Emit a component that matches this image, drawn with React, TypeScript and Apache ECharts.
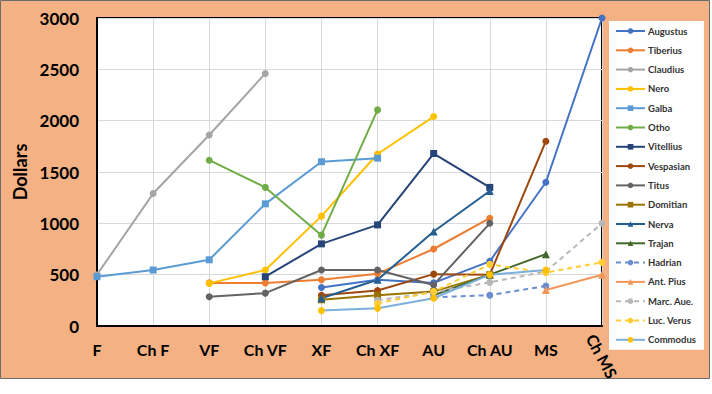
import React, { useEffect, useRef } from "react";
import * as echarts from "echarts";

const categories = ["F", "Ch F", "VF", "Ch VF", "XF", "Ch XF", "AU", "Ch AU", "MS", "Ch MS"];
const yTicks = { min: 0, max: 3000, interval: 500 };

const augustus = [null, null, null, null, 375, 450, 420, 630, 1400, 3000];
const tiberius = [null, null, 420, 420, 450, 510, 750, 1050, null, null];
const claudius = [500, 1290, 1860, 2460, null, null, null, null, null, null];
const nero = [null, null, 415, 545, 1070, 1675, 2040, null, null, null];
const galba = [480, 545, 645, 1190, 1600, 1635, null, null, null, null];
const otho = [null, null, 1615, 1350, 885, 2105, null, null, null, null];
const vitellius = [null, null, null, 480, 800, 985, 1680, 1350, null, null];
const vespasian = [null, null, null, null, 300, 345, 505, 500, 1800, null];
const titus = [null, null, 285, 320, 545, 545, 400, 1000, null, null];
const domitian = [null, null, null, null, 255, 300, 335, 500, null, null];
const nerva = [null, null, null, null, 270, 450, 920, 1315, null, null];
const trajan = [null, null, null, null, null, null, 300, 500, 700, null];
const hadrian = [null, null, null, null, null, null, 280, 300, 390, null];
const antPius = [null, null, null, null, null, null, null, null, 350, 500];
const marcAue = [null, null, null, null, null, 250, 330, 425, 530, 1000];
const lucVerus = [null, null, null, null, null, 220, 335, 600, 520, 620];
const commodus = [null, null, null, null, 150, 172, 270, 500, 545, null];

const seriesDefs = [
  { name: "Augustus", data: augustus, color: "#4472C4", symbol: "circle", dashed: false },
  { name: "Tiberius", data: tiberius, color: "#ED7D31", symbol: "circle", dashed: false },
  { name: "Claudius", data: claudius, color: "#A5A5A5", symbol: "circle", dashed: false },
  { name: "Nero", data: nero, color: "#FFC000", symbol: "circle", dashed: false },
  { name: "Galba", data: galba, color: "#5B9BD5", symbol: "rect", dashed: false },
  { name: "Otho", data: otho, color: "#70AD47", symbol: "circle", dashed: false },
  { name: "Vitellius", data: vitellius, color: "#264478", symbol: "rect", dashed: false },
  { name: "Vespasian", data: vespasian, color: "#9E480E", symbol: "circle", dashed: false },
  { name: "Titus", data: titus, color: "#636363", symbol: "circle", dashed: false },
  { name: "Domitian", data: domitian, color: "#997300", symbol: "rect", dashed: false },
  { name: "Nerva", data: nerva, color: "#255E91", symbol: "triangle", dashed: false },
  { name: "Trajan", data: trajan, color: "#43682B", symbol: "triangle", dashed: false },
  { name: "Hadrian", data: hadrian, color: "#698ED0", symbol: "circle", dashed: true },
  { name: "Ant. Pius", data: antPius, color: "#F1975A", symbol: "triangle", dashed: false },
  { name: "Marc. Aue.", data: marcAue, color: "#B7B7B7", symbol: "circle", dashed: true },
  { name: "Luc. Verus", data: lucVerus, color: "#FFCD33", symbol: "circle", dashed: true },
  { name: "Commodus", data: commodus, color: "#7CAFDD", symbol: "circle", dashed: false, marker: "#FFC000" },
];

const FONT = "Lato, 'Liberation Sans', Arial, sans-serif";

export default function App() {
  const ref = useRef<HTMLDivElement>(null);
  useEffect(() => {
    if (!ref.current) return;
    const chart = echarts.init(ref.current, undefined, { renderer: "svg" });
    const lastIdx = categories.length - 1;
    chart.setOption({
      animation: false,
      backgroundColor: "#ffffff",
      graphic: [
        {
          type: "rect",
          z: -10,
          silent: true,
          shape: { x: 0.5, y: 0.5, width: 709, height: 378 },
          style: { fill: "#F4B183", stroke: "#6b6b6b", lineWidth: 1 },
        },
      ],
      grid: {
        left: 97,
        right: 110,
        top: 18,
        bottom: 68,
        show: true,
        backgroundColor: "#ffffff",
        borderColor: "#000000",
        borderWidth: 2,
      },
      legend: {
        orient: "vertical",
        left: 609,
        top: 21,
        height: 340,
        backgroundColor: "#ffffff",
        padding: [4, 8, 4, 6],
        itemWidth: 29,
        itemHeight: 7,
        itemGap: 7.3,
        textStyle: {
          fontFamily: FONT,
          fontSize: 9.5,
          lineHeight: 12,
          fontWeight: "bold",
          color: "#333333",
          padding: [0, 0, 0, -2],
        },
        data: seriesDefs.map((s) => s.name),
      },
      xAxis: [
        {
          type: "category",
          data: categories,
          boundaryGap: false,
          axisLine: { show: true, lineStyle: { color: "#000", width: 2 } },
          axisTick: { show: false },
          splitLine: { show: true, lineStyle: { color: "#D9D9D9", width: 1 } },
          axisLabel: {
            interval: 0,
            margin: 15,
            fontFamily: FONT,
            fontSize: 16,
            fontWeight: "bold",
            color: "#000",
            formatter: (v: string, i: number) => (i === lastIdx ? "" : v),
          },
        },
        {
          type: "category",
          data: categories,
          boundaryGap: false,
          position: "bottom",
          axisLine: { show: false },
          axisTick: { show: false },
          splitLine: { show: false },
          axisLabel: {
            interval: 0,
            margin: 30,
            rotate: -62,
            align: "center",
            verticalAlign: "middle",
            fontFamily: FONT,
            fontSize: 16,
            fontWeight: "bold",
            color: "#000",
            formatter: (v: string, i: number) => (i === lastIdx ? v : ""),
          },
        },
      ],
      yAxis: {
        type: "value",
        min: yTicks.min,
        max: yTicks.max,
        interval: yTicks.interval,
        name: "Dollars",
        nameLocation: "middle",
        nameGap: 56,
        nameTextStyle: { fontFamily: FONT, fontSize: 18, fontWeight: "bold", color: "#000" },
        axisLine: { show: true, lineStyle: { color: "#000", width: 2 } },
        axisTick: { show: false },
        splitLine: { show: true, lineStyle: { color: "#D9D9D9", width: 1 } },
        axisLabel: {
          margin: 18,
          fontFamily: FONT,
          fontSize: 17,
          fontWeight: "bold",
          color: "#000",
          formatter: (v: number) => String(v),
        },
      },
      series: seriesDefs.map((s) => ({
        name: s.name,
        type: "line",
        xAxisIndex: 0,
        data: s.data,
        symbol: s.symbol,
        symbolSize: s.symbol === "triangle" ? 8 : 7,
        showSymbol: true,
        clip: false,
        lineStyle: { color: s.color, width: 2, type: s.dashed ? [5, 4] : "solid" },
        itemStyle: { color: (s as any).marker || s.color, borderColor: (s as any).marker || s.color, borderWidth: 0 },
        emphasis: { disabled: true },
      })),
    });
    return () => chart.dispose();
  }, []);
  return (
    <div style={{ position: "absolute", left: 0, top: 0, width: 712, height: 394, background: "#fff" }}>
      <div ref={ref} style={{ width: 712, height: 394 }} />
    </div>
  );
}
